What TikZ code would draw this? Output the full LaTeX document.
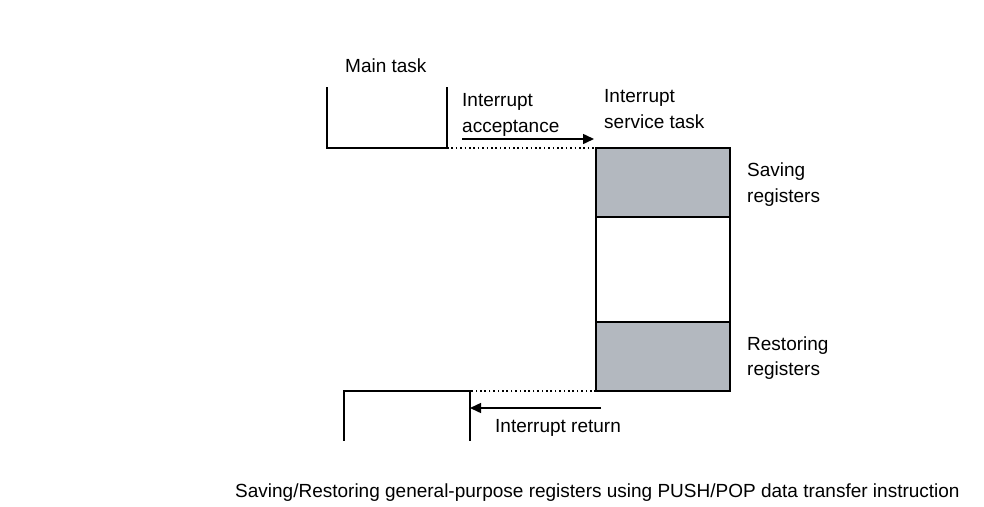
\documentclass[tikz,border=0pt]{standalone}
\usepackage{fontspec}
\setmainfont{Liberation Sans}
\usetikzlibrary{arrows.meta}
\definecolor{regfill}{RGB}{179,184,191}
\begin{document}
\begin{tikzpicture}[x=1pt,y=-1pt,
  lbl/.style={anchor=base west,inner sep=0pt,font=\fontsize{19}{26}\selectfont},
  taskline/.style={line width=1.8pt,line cap=rect},
  seg/.style={draw=black,line width=1.8pt,minimum width=134pt,inner sep=0pt,outer sep=0pt,anchor=north west},
  dots/.style={line width=1.6pt,dash pattern=on 1.6pt off 2.8pt},
  arr/.style={line width=1.5pt,-{Triangle[length=11pt,width=10pt]}}]
\useasboundingbox (0,0) rectangle (984,506);
% column of the interrupt service task
\node[seg,fill=regfill,minimum height=69pt] (save) at (596,148) {};
\node[seg,fill=white,minimum height=105pt] (mid) at (save.south west) {};
\node[seg,fill=regfill,minimum height=69pt] (rest) at (mid.south west) {};
% main task (top)
\coordinate (mtl) at (327,88);
\coordinate (mtbl) at (327,148);
\coordinate (mtbr) at (447,148);
\coordinate (mtr) at (447,88);
\draw[taskline] (mtl) -- (mtbl) -- (mtbr) -- (mtr);
% main task (bottom)
\coordinate (rtl) at (344,440);
\coordinate (rttl) at (344,391);
\coordinate (rttr) at (470,391);
\coordinate (rtr) at (470,440);
\draw[taskline] (rtl) -- (rttl) -- (rttr) -- (rtr);
% dotted links
\draw[dots] (mtbr) -- (save.north west);
\draw[dots] (rest.south west) -- (rttr);
% arrows
\coordinate (a1s) at (462,139);
\coordinate (a1e) at (594,139);
\draw[arr] (a1s) -- (a1e);
\coordinate (a2s) at (601,408);
\coordinate (a2e) at (470,408);
\draw[arr] (a2s) -- (a2e);
% labels
\node[lbl] (tmain) at (345,72) {Main task};
\node[lbl] (tacc1) at (462,106) {Interrupt};
\node[lbl] (tacc2) at (462,132) {acceptance};
\node[lbl] (tisr1) at (604,102) {Interrupt};
\node[lbl] (tisr2) at (604,128) {service task};
\node[lbl] (tsav1) at (747,176) {Saving};
\node[lbl] (tsav2) at (747,202) {registers};
\node[lbl] (tres1) at (747,350) {Restoring};
\node[lbl] (tres2) at (747,375) {registers};
\node[lbl] (tret) at (495,432) {Interrupt return};
\node[lbl] (tcap) at (235,497) {Saving/Restoring general-purpose registers using PUSH/POP data transfer instruction};
\end{tikzpicture}
\end{document}
